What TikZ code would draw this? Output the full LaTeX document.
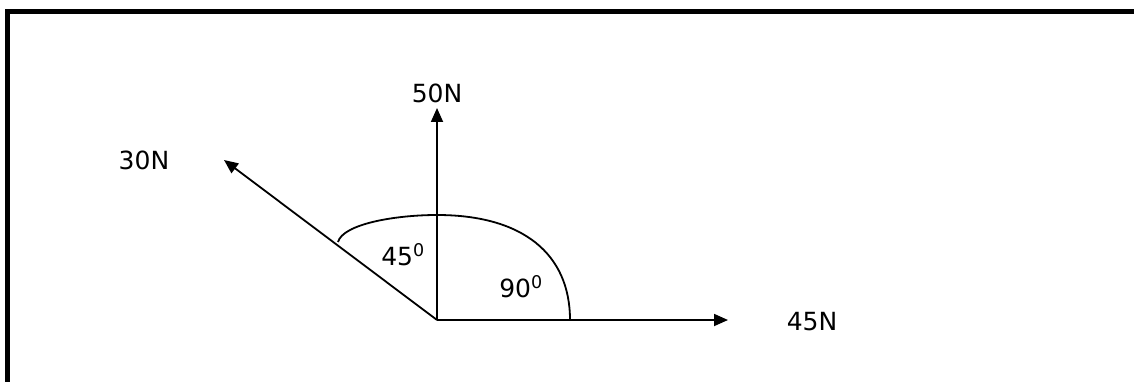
\documentclass[tikz,border=0pt]{standalone}
\usepackage{fontspec}
\setmainfont{DejaVu Sans}
\usetikzlibrary{arrows.meta}
\begin{document}
\begin{tikzpicture}[x=1pt,y=-1pt,
  force/.style={line width=1.8pt,-{Triangle[length=14pt,width=12pt]}},
  lbl/.style={inner sep=0pt,font=\fontsize{25}{29}\selectfont},
  frame/.style={line width=5.5pt}]
\useasboundingbox (0,0) rectangle (1134,382);
\draw[frame] (7.5,382) -- (7.5,11.5) -- (1134,11.5);
\coordinate (O) at (437,320);
\coordinate (tipup) at (437,108);
\coordinate (tipright) at (728,320);
\coordinate (tipleft) at (224,160);
\coordinate (arcl) at (338,242);
\coordinate (arct) at (437,215);
\coordinate (arcr) at (570,320);
\draw[force] (O) -- (tipup);
\draw[force] (O) -- (tipright);
\draw[force] (O) -- (tipleft);
\draw[line width=1.8pt] (arcl) .. controls (343,224) and (395,215) .. (arct)
  .. controls (523,215) and (570,254) .. (arcr);
\node[lbl] (l50) at (437,93) {50N};
\node[lbl] (l30) at (144,160) {30N};
\node[lbl] (l45) at (812,322) {45N};
\node[lbl] (a45) at (403,255) {45\textsuperscript{0}};
\node[lbl] (a90) at (521,287) {90\textsuperscript{0}};
\end{tikzpicture}
\end{document}
